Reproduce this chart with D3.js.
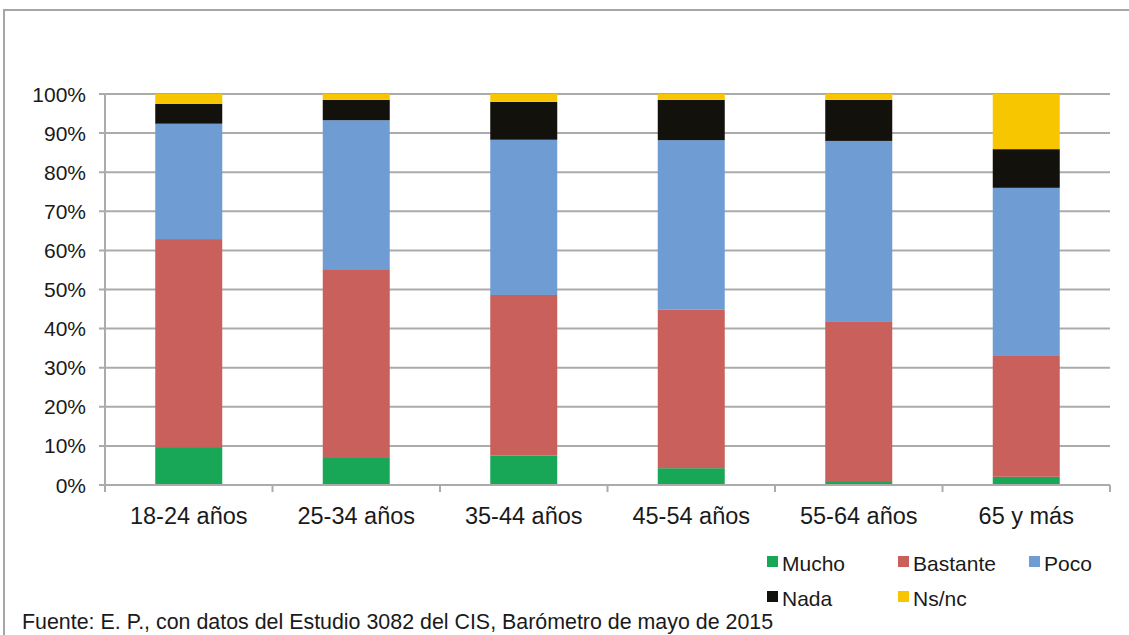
<!DOCTYPE html>
<html>
<head>
<meta charset="utf-8">
<script src="https://cdn.jsdelivr.net/npm/d3@7"></script>
<style>
  body { margin: 0; background: #fff; }
  text { font-family: 'Liberation Sans', Arial, sans-serif; fill: #1a1a1a; }
</style>
</head>
<body>
<div id="chart"></div>
<script>
let categories = ['18-24 años', '25-34 años', '35-44 años', '45-54 años', '55-64 años', '65 y más']
let seriesNames = ['Mucho', 'Bastante', 'Poco', 'Nada', 'Ns/nc']
let mucho = [9.7, 6.9, 7.5, 4.3, 1.0, 2.1]
let bastante = [53.2, 48.3, 41.1, 40.5, 40.7, 30.9]
let poco = [29.5, 38.1, 39.7, 43.4, 46.3, 43.0]
let nada = [5.1, 5.2, 9.7, 10.3, 10.5, 9.9]
let nsnc = [2.5, 1.5, 2.0, 1.5, 1.5, 14.1]
let yTicks = [0, 10, 20, 30, 40, 50, 60, 70, 80, 90, 100]
let colors = ['#17a757', '#c9605b', '#6f9cd3', '#12110c', '#f8c600']
let source = 'Fuente: E. P., con datos del Estudio 3082 del CIS, Barómetro de mayo de 2015'

let width = 1129
let height = 635
let margin = { top: 94, left: 105, right: 19, bottom: 150 }
let plotW = width - margin.left - margin.right
let plotH = height - margin.top - margin.bottom

let svg = d3
  .select('#chart')
  .append('svg')
  .attr('width', width)
  .attr('height', height)

// outer frame
svg
  .append('path')
  .attr('d', 'M4,' + height + ' V10 H' + width)
  .attr('fill', 'none')
  .attr('stroke', '#a6a6a6')
  .attr('stroke-width', 2)

let g = svg
  .append('g')
  .attr('transform', 'translate(' + margin.left + ',' + margin.top + ')')

let table = categories.map((c, i) => ({
  cat: c,
  Mucho: mucho[i],
  Bastante: bastante[i],
  Poco: poco[i],
  Nada: nada[i],
  'Ns/nc': nsnc[i]
}))

let stack = d3.stack().keys(seriesNames)(table)

let xPositionScale = d3
  .scaleBand()
  .domain(categories)
  .range([0, plotW])
  .paddingInner(0.6)
  .paddingOuter(0.3)

let yPositionScale = d3
  .scaleLinear()
  .domain([0, 100])
  .range([plotH, 0])

let colorScale = d3.scaleOrdinal().domain(seriesNames).range(colors)

// gridlines
g.selectAll('.grid')
  .data(yTicks)
  .enter()
  .append('line')
  .attr('x1', -6)
  .attr('x2', plotW)
  .attr('y1', d => yPositionScale(d))
  .attr('y2', d => yPositionScale(d))
  .attr('stroke', '#ababab')
  .attr('stroke-width', 2)

// y labels
g.selectAll('.ylab')
  .data(yTicks)
  .enter()
  .append('text')
  .attr('x', -19)
  .attr('y', d => yPositionScale(d))
  .attr('dy', '0.36em')
  .attr('text-anchor', 'end')
  .attr('font-size', 21)
  .text(d => d + '%')

// bars
g.selectAll('.series')
  .data(stack)
  .enter()
  .append('g')
  .attr('fill', d => colorScale(d.key))
  .selectAll('rect')
  .data(d => d)
  .enter()
  .append('rect')
  .attr('x', d => xPositionScale(d.data.cat))
  .attr('width', xPositionScale.bandwidth())
  .attr('y', d => yPositionScale(d[1]))
  .attr('height', d => yPositionScale(d[0]) - yPositionScale(d[1]))

// axes lines
g.append('line')
  .attr('x1', 0).attr('x2', 0)
  .attr('y1', 0).attr('y2', plotH)
  .attr('stroke', '#ababab').attr('stroke-width', 2)

let bounds = d3.range(categories.length + 1).map(i => i * plotW / categories.length)
g.append('line')
  .attr('x1', 0).attr('x2', plotW)
  .attr('y1', plotH).attr('y2', plotH)
  .attr('stroke', '#ababab').attr('stroke-width', 2)
g.selectAll('.xtick')
  .data(bounds)
  .enter()
  .append('line')
  .attr('x1', d => d).attr('x2', d => d)
  .attr('y1', plotH).attr('y2', plotH + 7)
  .attr('stroke', '#ababab').attr('stroke-width', 2)

// x labels
g.selectAll('.xlab')
  .data(categories)
  .enter()
  .append('text')
  .attr('x', d => xPositionScale(d) + xPositionScale.bandwidth() / 2)
  .attr('y', plotH + 39)
  .attr('text-anchor', 'middle')
  .attr('font-size', 23.5)
  .text(d => d)

// legend
let legend = svg
  .selectAll('.legend')
  .data(seriesNames)
  .enter()
  .append('g')
  .attr('transform', (d, i) => 'translate(' + (767 + (i % 3) * 131) + ',' + (563 + Math.floor(i / 3) * 35) + ')')

legend
  .append('rect')
  .attr('x', 0)
  .attr('y', -7)
  .attr('width', 11)
  .attr('height', 11)
  .attr('fill', d => colorScale(d))

legend
  .append('text')
  .attr('x', 15)
  .attr('y', 0)
  .attr('dy', '0.36em')
  .attr('font-size', 21)
  .text(d => d)

svg
  .append('text')
  .attr('x', 22)
  .attr('y', 629)
  .attr('font-size', 21.4)
  .text(source)
</script>
</body>
</html>
